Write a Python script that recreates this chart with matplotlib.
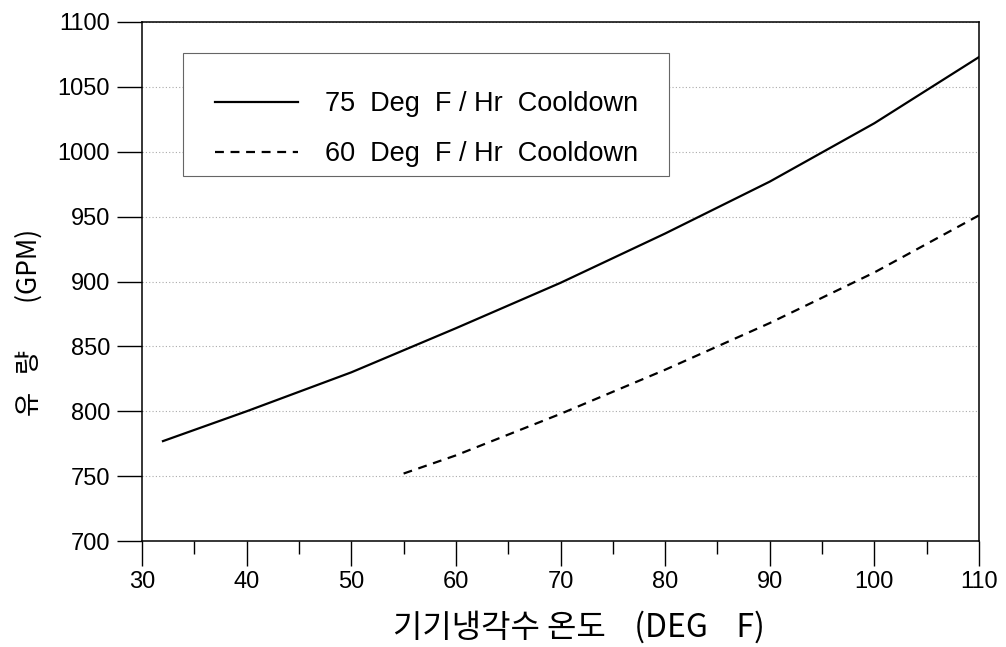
import numpy as np
import matplotlib
matplotlib.use('Agg')
import matplotlib.pyplot as plt
from matplotlib.patches import Rectangle

# 75 Deg F/Hr cooldown curve
temp_75 = [32, 40, 50, 60, 70, 80, 90, 100, 110]
flow_75 = [777, 800, 830, 864, 899, 937, 977, 1022, 1073]
# 60 Deg F/Hr cooldown curve
temp_60 = [55, 60, 70, 80, 90, 100, 110]
flow_60 = [752, 766, 798, 832, 868, 907, 951]

labels = ['75  Deg  F / Hr  Cooldown', '60  Deg  F / Hr  Cooldown']

plt.rcParams['font.family'] = ['Liberation Sans', 'Noto Sans CJK KR', 'DejaVu Sans']

fig = plt.figure(figsize=(10.06, 6.47), dpi=100)
ax = fig.add_axes([0.1412, 0.1638, 0.8320, 0.8022])

ax.plot(temp_75, flow_75, color='black', lw=1.6, label=labels[0])
ax.plot(temp_60, flow_60, color='black', lw=1.6, ls=(0, (4, 3)), label=labels[1])

ax.set_xlim(30, 110)
ax.set_ylim(700, 1100)
ax.set_xticks(np.arange(30, 111, 10))
ax.set_xticks(np.arange(35, 110, 10), minor=True)
ax.set_yticks(np.arange(700, 1101, 50))
ax.tick_params(axis='both', which='major', labelsize=17, direction='out', length=18, width=1)
ax.tick_params(axis='x', which='minor', direction='out', length=9, width=1)
ax.tick_params(axis='y', which='major', pad=5)
ax.tick_params(axis='x', which='major', pad=3.5)
ax.yaxis.grid(True, ls=(0, (1, 2)), color='#aaaaaa', lw=0.8)
for s in ax.spines.values():
    s.set_linewidth(1.1)

# legend box drawn separately, entries placed inside without frame
ax.add_patch(Rectangle((0.049, 0.7033), 0.5806, 0.237, transform=ax.transAxes,
                       facecolor='white', edgecolor='#666666', lw=0.8, zorder=4))
leg = ax.legend(loc='upper left', bbox_to_anchor=(0.0872, 0.867), fontsize=19.5,
                handlelength=3.06, handletextpad=1.0, borderpad=0, labelspacing=0.9,
                borderaxespad=0, frameon=False)
leg.set_zorder(5)

fig.text(0.575, 0.030, '기기냉각수 온도    (DEG    F)', fontsize=23, ha='center', va='center',
         family=['Noto Sans CJK KR', 'DejaVu Sans'])
fig.text(0.029, 0.502, '유   량        (GPM)', fontsize=19, rotation=90, ha='center', va='center',
         family=['Noto Sans CJK KR', 'DejaVu Sans'])

fig.savefig('out.png', dpi=100)
